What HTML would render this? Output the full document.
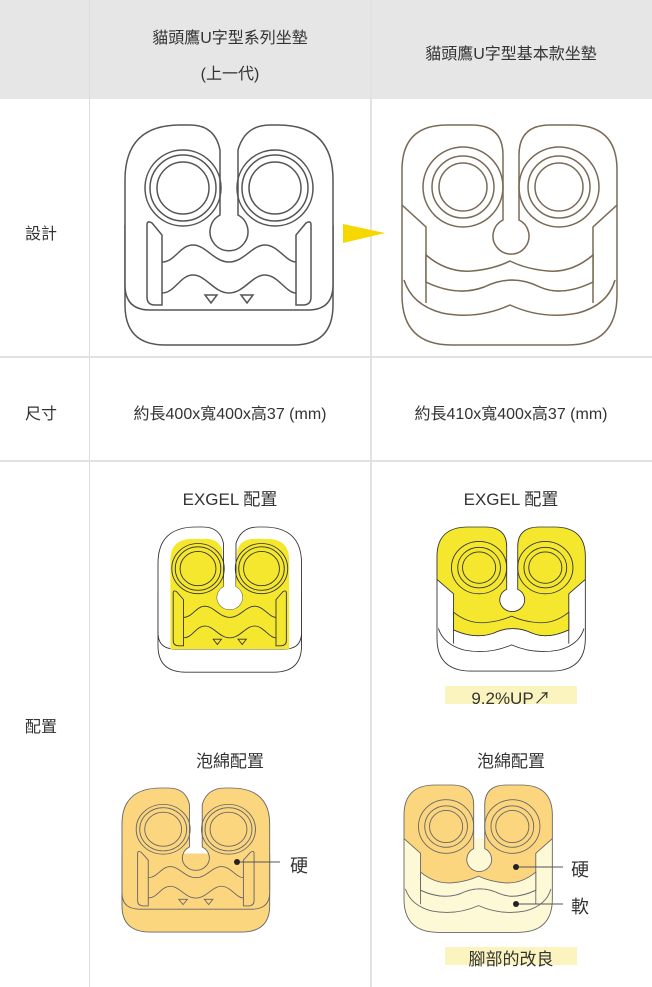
<!DOCTYPE html>
<html><head><meta charset="utf-8"><style>
html,body{margin:0;padding:0;background:#fff;}
body{width:652px;height:987px;position:relative;overflow:hidden;font-family:"Liberation Sans","Noto Sans CJK TC",sans-serif;color:#333;}
.t{position:absolute;white-space:nowrap;font-size:16px;transform:translateX(-50%);}
.l{position:absolute;font-size:16px;}
.hl{position:absolute;background:#fcf4bf;}
svg{position:absolute;left:0;top:0;}
</style></head><body>
<div style="position:absolute;left:0;top:0;width:652px;height:99px;background:#e6e6e7"></div>
<div style="position:absolute;left:89px;top:0;width:1px;height:987px;background:#dcdcdc"></div>
<div style="position:absolute;left:370px;top:0;width:2px;height:987px;background:#e2e2e2"></div>
<div style="position:absolute;left:0;top:356px;width:652px;height:2px;background:#e2e2e2"></div>
<div style="position:absolute;left:0;top:460px;width:652px;height:2px;background:#e2e2e2"></div>

<div class="t" style="left:230px;top:24px">貓頭鷹U字型系列坐墊</div>
<div class="t" style="left:230px;top:60px">(上一代)</div>
<div class="t" style="left:511px;top:40px">貓頭鷹U字型基本款坐墊</div>
<div class="l" style="left:25px;top:220px">設計</div>
<div class="l" style="left:25px;top:400px">尺寸</div>
<div class="l" style="left:25px;top:713px">配置</div>
<div class="t" style="left:230px;top:400px">約長400x寬400x高37 (mm)</div>
<div class="t" style="left:511px;top:400px">約長410x寬400x高37 (mm)</div>
<div class="t" style="left:230px;top:485px;font-size:17px">EXGEL 配置</div>
<div class="t" style="left:511px;top:485px;font-size:17px">EXGEL 配置</div>
<div class="t" style="left:230px;top:747px;font-size:17px">泡綿配置</div>
<div class="t" style="left:511px;top:747px;font-size:17px">泡綿配置</div>
<div class="hl" style="left:445px;top:686px;width:132px;height:18px"></div>
<div class="t" style="left:511px;top:684px;font-size:17px">9.2%UP↗</div>
<div class="hl" style="left:445px;top:947px;width:132px;height:18px"></div>
<div class="t" style="left:511px;top:945px;font-size:17px">腳部的改良</div>
<div class="l" style="left:290px;top:852px;font-size:18px">硬</div>
<div class="l" style="left:571px;top:856px;font-size:18px">硬</div>
<div class="l" style="left:571px;top:893px;font-size:18px">軟</div>

<svg width="652" height="987" viewBox="0 0 652 987">
<defs>
<symbol id="L" overflow="visible">
 <path d="M0,100 L0,180 Q0,220 40,220 L168,220 Q208,220 208,180 L208,100" style="fill:var(--base);stroke:var(--s)"/>
 <path d="M0,55 Q0,0 55,0 L65,0 Q90,0 95,25 L95,90 A19,19 0 1 0 113,90 L113,25 Q120,0 145,0 L153,0 Q208,0 208,55 L208,160 Q208,185 183,185 L25,185 Q0,185 0,160 Z" style="fill:var(--face);stroke:var(--s)"/>
 <path d="M18,50 Q18,18 50,18 L70,18 Q88,18 93,35 L95,90 A19,19 0 1 0 113,90 L115,35 Q120,18 140,18 L158,18 Q190,18 190,50 L190,185 L18,185 Z" style="fill:var(--inner);stroke:none"/>
 <g style="fill:none;stroke:var(--s)">
 <circle cx="58" cy="63" r="38"/><circle cx="58" cy="63" r="33"/><circle cx="58" cy="63" r="26"/>
 <circle cx="150" cy="63" r="38"/><circle cx="150" cy="63" r="33"/><circle cx="150" cy="63" r="26"/>
 <path d="M37,137 C50,137 55,120 68,120 C81,120 89,137 104,137 C119,137 127,120 140,120 C153,120 161,137 171,137"/>
 <path d="M37,168 C50,168 55,150 68,150 C81,150 89,168 104,168 C119,168 127,150 140,150 C153,150 161,168 171,168"/>
 <path d="M37,110 L37,180 L30,180 Q22,180 22,172 L22,100 Q22,95 27,98 Z"/>
 <path d="M171,110 L171,180 L178,180 Q186,180 186,172 L186,100 Q186,95 181,98 Z"/>
 <path d="M80,170 L92,170 L86,178 Z"/><path d="M116,170 L128,170 L122,178 Z"/>
 </g>
</symbol>
<symbol id="R" overflow="visible">
 <path d="M0,80 L0,170 Q0,220 50,220 L165,220 Q215,220 215,170 L215,80" style="fill:var(--base);stroke:var(--s)"/>
 <path d="M0,80 L0,45 Q0,0 45,0 L70,0 Q101,0 101,30 L101,95 A18,18 0 1 0 117,95 L117,30 Q117,0 148,0 L170,0 Q215,0 215,45 L215,80 L191,102 L191,157 Q160,172 138,162 Q110,148 82,162 Q55,172 24,157 L24,102 Z" style="fill:var(--face);stroke:var(--s)"/>
 <path d="M24,130 Q45,148 70,146 Q92,144 108,136 Q124,144 146,146 Q170,148 191,130 L191,157 Q160,172 138,162 Q110,148 82,162 Q55,172 24,157 Z" style="fill:var(--low);stroke:var(--s)"/>
 <g style="fill:none;stroke:var(--s)">
 <circle cx="61" cy="62" r="40"/><circle cx="61" cy="62" r="31"/><circle cx="61" cy="62" r="24"/>
 <circle cx="157" cy="62" r="40"/><circle cx="157" cy="62" r="31"/><circle cx="157" cy="62" r="24"/>
 <path d="M2,155 Q10,180 40,188 Q75,195 108,180 Q141,195 176,188 Q206,180 213,155"/>
 <path d="M24,157 L24,178 M191,157 L191,178"/>
 </g>
</symbol>
</defs>
<polygon points="343,224 385,233 343,243" fill="#f6d800"/>
<use href="#L" transform="translate(125,125)" style="--base:#fff;--face:#fff;--inner:none;--s:#555;stroke-width:1.5px"/>
<use href="#R" transform="translate(402,125)" style="--base:#fff;--face:#fff;--low:#fff;--s:#7a6a55;stroke-width:1.5px"/>
<use href="#L" transform="translate(158,527) scale(0.69,0.66)" style="--base:#fff;--face:#fff;--inner:#f5e72e;--s:#333;stroke-width:1.3px"/>
<use href="#R" transform="translate(437,527) scale(0.69,0.655)" style="--base:#fff;--face:#f5e72e;--low:#f5e72e;--s:#333;stroke-width:1.3px"/>
<use href="#L" transform="translate(122,788) scale(0.71,0.655)" style="--base:#fcd57f;--face:#fcd57f;--inner:none;--s:#666;stroke-width:1.3px"/>
<use href="#R" transform="translate(404,785) scale(0.69,0.67)" style="--base:#fdf8d6;--face:#fcd57f;--low:#fdf8d6;--s:#666;stroke-width:1.3px"/>
<g stroke="#555" stroke-width="1"><line x1="237" y1="862" x2="280" y2="862"/><line x1="516" y1="867" x2="563" y2="867"/><line x1="516" y1="904" x2="563" y2="904"/></g>
<g fill="#222"><circle cx="237" cy="862" r="3"/><circle cx="516" cy="867" r="3"/><circle cx="516" cy="904" r="3"/></g>
</svg>
</body></html>
